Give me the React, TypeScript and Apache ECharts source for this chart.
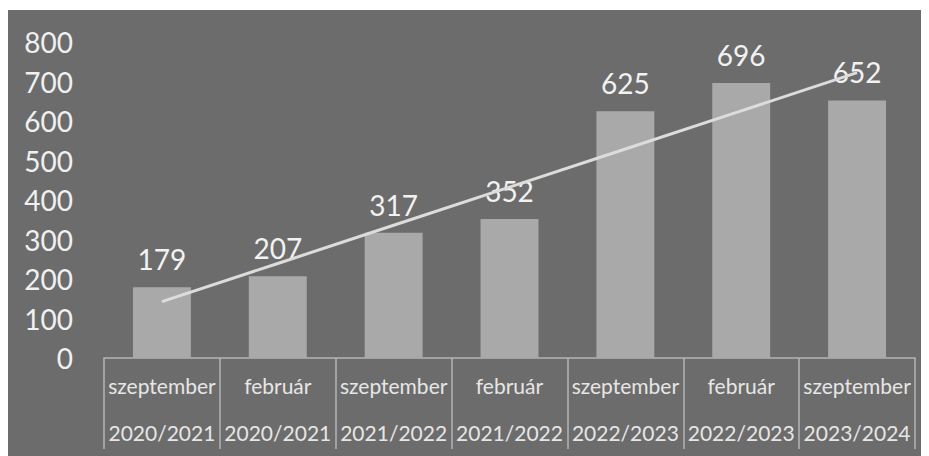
import React, { useEffect, useRef } from "react";
import * as echarts from "echarts";

const months = ["szeptember", "február", "szeptember", "február", "szeptember", "február", "szeptember"];
const years = ["2020/2021", "2020/2021", "2021/2022", "2021/2022", "2022/2023", "2022/2023", "2023/2024"];
const values = [179, 207, 317, 352, 625, 696, 652];
const yTicks = [0, 100, 200, 300, 400, 500, 600, 700, 800];

function linearTrend(v: number[]): number[] {
  const n = v.length;
  const mx = (n - 1) / 2;
  const my = v.reduce((a, b) => a + b, 0) / n;
  let sxy = 0;
  let sxx = 0;
  v.forEach((y, i) => {
    sxy += (i - mx) * (y - my);
    sxx += (i - mx) * (i - mx);
  });
  const slope = sxy / sxx;
  return v.map((_, i) => my + slope * (i - mx));
}

export default function App() {
  const ref = useRef<HTMLDivElement>(null);
  useEffect(() => {
    if (!ref.current) return;
    const chart = echarts.init(ref.current, undefined, { renderer: "svg" });
    const cats = months.map((m, i) => m + "\n" + years[i]);
    const trend = linearTrend(values);
    chart.setOption({
      animation: false,
      backgroundColor: "#6c6c6c",
      textStyle: { fontFamily: "Lato" },
      grid: { left: 96, right: 14, top: 32, bottom: 89, containLabel: false },
      xAxis: {
        type: "category",
        data: cats,
        boundaryGap: true,
        axisLine: { show: true, lineStyle: { color: "#b4b4b4", width: 1.5 } },
        axisTick: { show: true, length: 91, lineStyle: { color: "#b4b4b4", width: 1.5 } },
        axisLabel: {
          color: "#e6e6e6",
          fontSize: 21,
          fontFamily: "Lato",
          lineHeight: 47,
          margin: 4,
          interval: 0,
        },
      },
      yAxis: {
        type: "value",
        min: yTicks[0],
        max: yTicks[yTicks.length - 1],
        interval: 100,
        axisLine: { show: false },
        axisTick: { show: false },
        splitLine: { show: false },
        axisLabel: {
          color: "#f0f0f0",
          fontSize: 28,
          fontFamily: "Lato",
          margin: 31,
        },
      },
      series: [
        {
          type: "bar",
          data: values,
          barWidth: "50%",
          itemStyle: { color: "#a9a9a9" },
          label: {
            show: true,
            position: "top",
            distance: 14,
            color: "#f2f2f2",
            fontSize: 28,
            fontFamily: "Lato",
          },
        },
        {
          type: "line",
          data: trend,
          symbol: "none",
          lineStyle: { color: "#dcdcdc", width: 3 },
          z: 5,
        },
      ],
    });
    return () => chart.dispose();
  }, []);
  return (
    <div style={{ width: 921, height: 446, marginTop: 2, marginLeft: 0 }}>
      <div ref={ref} style={{ width: 921, height: 446 }} />
    </div>
  );
}
